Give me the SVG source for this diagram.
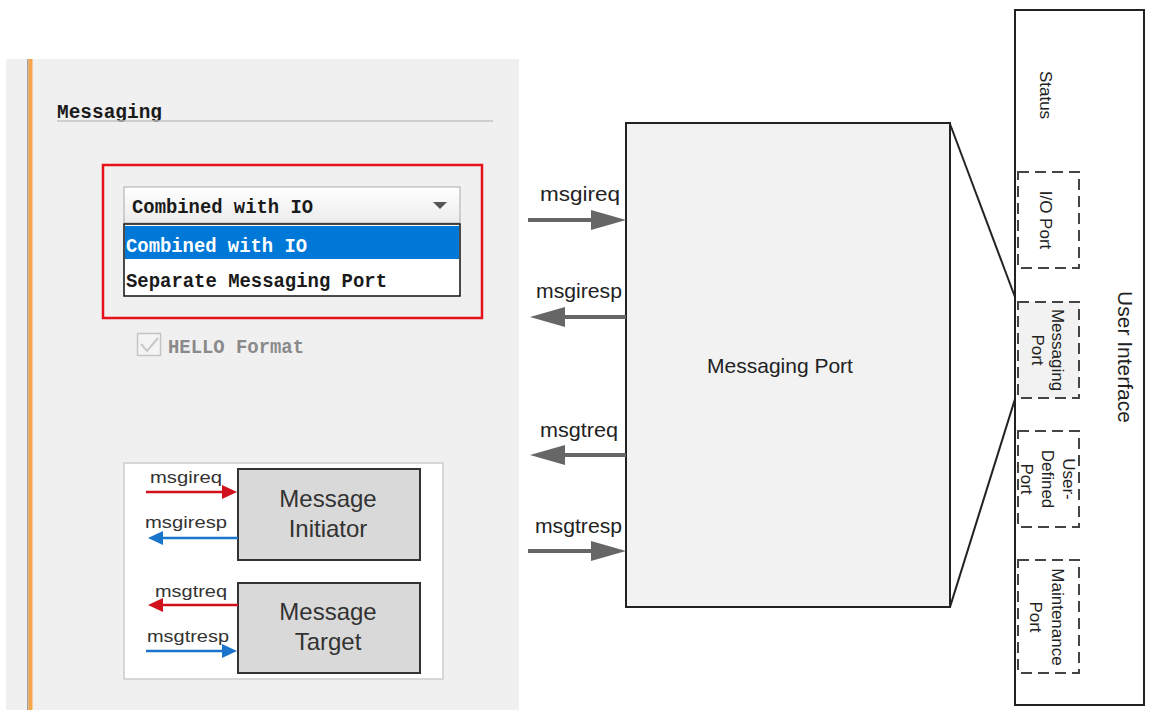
<svg xmlns="http://www.w3.org/2000/svg" width="1162" height="718" viewBox="0 0 1162 718">
<style>
.ui{font-family:"Liberation Mono","DejaVu Sans Mono",monospace;font-weight:bold;font-size:20px;fill:#1a1a1a}
.sans{font-family:"Liberation Sans",Arial,sans-serif;fill:#222}
.lbl{font-size:20px}
.rot{font-size:17px;text-anchor:middle}
.sm{font-size:17px;fill:#333}
.big{font-size:24px;text-anchor:middle;fill:#333}
.dash{fill:none;stroke:#444;stroke-width:2;stroke-dasharray:11 6}
.garrow{stroke:#666;stroke-width:4;fill:none}
.rarrow{stroke:#d0101a;stroke-width:2.5;fill:none}
.barrow{stroke:#1a74cc;stroke-width:2.5;fill:none}
</style>
<defs>
<marker id="mg" markerUnits="userSpaceOnUse" markerWidth="36" markerHeight="22" refX="0" refY="10" orient="auto" overflow="visible"><path d="M0,0 L35,10 L0,20 z" fill="#666"/></marker>
<marker id="mr" markerUnits="userSpaceOnUse" markerWidth="16" markerHeight="15" refX="0" refY="7" orient="auto" overflow="visible"><path d="M0,0 L15,7 L0,14 z" fill="#d0101a"/></marker>
<marker id="mb" markerUnits="userSpaceOnUse" markerWidth="16" markerHeight="15" refX="0" refY="7" orient="auto" overflow="visible"><path d="M0,0 L15,7 L0,14 z" fill="#1a74cc"/></marker>
<linearGradient id="combo" x1="0" y1="0" x2="0" y2="1"><stop offset="0" stop-color="#ffffff"/><stop offset="1" stop-color="#ececec"/></linearGradient>
</defs>
<rect width="1162" height="718" fill="#ffffff"/>

<g id="settings-panel">
<rect x="6" y="59" width="513" height="651" fill="#f0f0f0"/>
<rect x="27" y="59" width="1.5" height="651" fill="#a0a0a0"/>
<rect x="28.5" y="59" width="4" height="651" fill="#f7a54a"/>
<text class="ui" x="57" y="118" textLength="105" lengthAdjust="spacingAndGlyphs">Messaging</text>
<line x1="57" y1="121" x2="493" y2="121" stroke="#c4c4c4" stroke-width="1.5"/>
</g>

<g id="dropdown">
<rect x="103" y="165" width="379" height="153" fill="none" stroke="#e8101a" stroke-width="2.5"/>
<rect x="124" y="187" width="336" height="36" fill="url(#combo)" stroke="#aaaaaa" stroke-width="1"/>
<text class="ui" x="132" y="213" textLength="181" lengthAdjust="spacingAndGlyphs">Combined with IO</text>
<path d="M433,202 L447,202 L440,209 z" fill="#555"/>
<rect x="124" y="224" width="336" height="72" fill="#ffffff" stroke="#111" stroke-width="1.5"/>
<rect x="125" y="226" width="334" height="33" fill="#0078d7"/>
<text class="ui" x="126" y="252" textLength="181" lengthAdjust="spacingAndGlyphs" style="fill:#ffffff">Combined with IO</text>
<text class="ui" x="126" y="287" textLength="261" lengthAdjust="spacingAndGlyphs">Separate Messaging Port</text>
</g>

<g id="hello-format">
<rect x="137.5" y="333.5" width="23" height="22" fill="#f4f4f4" stroke="#c4c4c4" stroke-width="1.5"/>
<path d="M141,344 L147,351 L158,338" fill="none" stroke="#c8c8c8" stroke-width="2"/>
<text class="ui" x="168" y="353" textLength="136" lengthAdjust="spacingAndGlyphs" style="fill:#8a8a8a">HELLO Format</text>
</g>

<g id="legend">
<rect x="124" y="463" width="319" height="216" fill="#ffffff" stroke="#cccccc" stroke-width="1.5"/>
</g>
<g id="message-initiator">
<rect x="238" y="469" width="182" height="91" fill="#d9d9d9" stroke="#333" stroke-width="2"/>
<text class="sans big" x="328" y="507">Message</text>
<text class="sans big" x="328" y="537">Initiator</text>
</g>
<g id="message-target">
<rect x="238" y="583" width="182" height="90" fill="#d9d9d9" stroke="#333" stroke-width="2"/>
<text class="sans big" x="328" y="620">Message</text>
<text class="sans big" x="328" y="650">Target</text>
</g>

<g id="messaging-port">
<rect x="626" y="123" width="324" height="484" fill="#f2f2f2" stroke="#222" stroke-width="2"/>
<text class="sans" x="780" y="373" font-size="21" text-anchor="middle">Messaging Port</text>
</g>

<g id="user-interface">
<rect x="1015" y="10" width="129" height="695" fill="#ffffff" stroke="#222" stroke-width="2"/>
<text class="sans" font-size="21" text-anchor="middle" transform="translate(1125,357) rotate(90)" y="7">User Interface</text>
<text class="sans rot" transform="translate(1046,95) rotate(90)" y="6">Status</text>
</g>
<g id="io-port">
<rect class="dash" x="1018" y="172" width="61" height="96"/>
<text class="sans rot" transform="translate(1046,220) rotate(90)" y="6">I/O Port</text>
</g>
<g id="ui-messaging-port">
<rect x="1018" y="302" width="61" height="96" fill="#f2f2f2" stroke="none"/>
<rect class="dash" x="1018" y="302" width="61" height="96"/>
<text class="sans rot" transform="translate(1048,350) rotate(90)"><tspan x="0" y="-4">Messaging</tspan><tspan x="0" y="16">Port</tspan></text>
</g>
<g id="user-defined-port">
<rect class="dash" x="1018" y="431" width="61" height="96"/>
<text class="sans rot" transform="translate(1048,479) rotate(90)"><tspan x="0" y="-15">User-</tspan><tspan x="0" y="6">Defined</tspan><tspan x="0" y="27">Port</tspan></text>
</g>
<g id="maintenance-port">
<rect class="dash" x="1018" y="560" width="61" height="113"/>
<text class="sans rot" transform="translate(1047,617) rotate(90)"><tspan x="0" y="-5">Maintenance</tspan><tspan x="0" y="17">Port</tspan></text>
</g>

<g id="connectors">
<line x1="950" y1="124" x2="1015" y2="297" stroke="#222" stroke-width="2"/>
<line x1="950" y1="607" x2="1015" y2="399" stroke="#222" stroke-width="2"/>
<line class="garrow" x1="528" y1="220" x2="591" y2="220" marker-end="url(#mg)"/>
<line class="garrow" x1="626" y1="317" x2="565" y2="317" marker-end="url(#mg)"/>
<line class="garrow" x1="626" y1="455" x2="565" y2="455" marker-end="url(#mg)"/>
<line class="garrow" x1="528" y1="551" x2="591" y2="551" marker-end="url(#mg)"/>
<text class="sans lbl" x="540" y="201" textLength="80" lengthAdjust="spacingAndGlyphs">msgireq</text>
<text class="sans lbl" x="536" y="298" textLength="86" lengthAdjust="spacingAndGlyphs">msgiresp</text>
<text class="sans lbl" x="540" y="437" textLength="78" lengthAdjust="spacingAndGlyphs">msgtreq</text>
<text class="sans lbl" x="535" y="533" textLength="87" lengthAdjust="spacingAndGlyphs">msgtresp</text>
<line class="rarrow" x1="146" y1="492" x2="222" y2="492" marker-end="url(#mr)"/>
<line class="barrow" x1="238" y1="538" x2="163" y2="538" marker-end="url(#mb)"/>
<line class="rarrow" x1="238" y1="605" x2="163" y2="605" marker-end="url(#mr)"/>
<line class="barrow" x1="146" y1="651" x2="222" y2="651" marker-end="url(#mb)"/>
<text class="sans sm" x="150" y="483" textLength="72" lengthAdjust="spacingAndGlyphs">msgireq</text>
<text class="sans sm" x="145" y="528" textLength="82" lengthAdjust="spacingAndGlyphs">msgiresp</text>
<text class="sans sm" x="155" y="597" textLength="72" lengthAdjust="spacingAndGlyphs">msgtreq</text>
<text class="sans sm" x="147" y="642" textLength="82" lengthAdjust="spacingAndGlyphs">msgtresp</text>
</g>
</svg>
